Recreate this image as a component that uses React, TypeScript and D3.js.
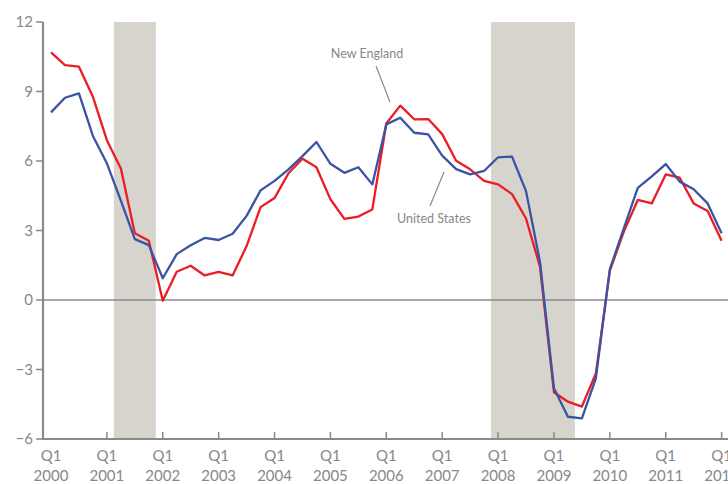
import React from "react";
import * as d3 from "d3";

const newEngland: number[] = [
  10.69, 10.14, 10.07, 8.77, 6.9, 5.68, 2.88, 2.56, -0.03, 1.22,
  1.48, 1.06, 1.21, 1.06, 2.33, 4.01, 4.4, 5.47, 6.1, 5.73,
  4.35, 3.5, 3.6, 3.91, 7.62, 8.39, 7.8, 7.81, 7.16, 6.01,
  5.64, 5.14, 4.99, 4.57, 3.52, 1.44, -3.98, -4.39, -4.6, -3.17,
  1.26, 2.95, 4.32, 4.17, 5.42, 5.28, 4.17, 3.84, 2.56,
];
const unitedStates: number[] = [
  8.1, 8.73, 8.92, 7.08, 5.9, 4.29, 2.63, 2.37, 0.94, 1.98,
  2.36, 2.68, 2.59, 2.86, 3.63, 4.73, 5.14, 5.64, 6.21, 6.82,
  5.88, 5.49, 5.73, 4.99, 7.58, 7.87, 7.22, 7.15, 6.23, 5.65,
  5.42, 5.57, 6.16, 6.19, 4.7, 1.65, -3.81, -5.04, -5.11, -3.38,
  1.33, 3.09, 4.84, 5.34, 5.87, 5.11, 4.78, 4.17, 2.88,
];
const startYear = 2000;
const yearTicks: number[] = [2000, 2001, 2002, 2003, 2004, 2005, 2006, 2007, 2008, 2009, 2010, 2011, 2012];
const yTicks: number[] = [12, 9, 6, 3, 0, -3, -6];
const recessions: [number, number][] = [
  [2001.125, 2001.875],
  [2007.875, 2009.375],
];

const W = 728;
const H = 484;
const FONT = "Lato, 'Open Sans', sans-serif";
const GREY = "#8a8a8a";
const TEXT = "#888888";

export default function App() {
  const x = d3.scaleLinear().domain([2000, 2012]).range([51, 721.6]);
  const y = d3.scaleLinear().domain([-6, 12]).range([439, 22]);
  const axisX = 43;

  const line = d3
    .line<number>()
    .x((_, i) => x(startYear + i / 4))
    .y((d) => y(d));

  const fmt = (v: number) => (v < 0 ? "\u2212" + Math.abs(v) : String(v));

  return (
    <svg
      width={W}
      height={H}
      style={{ position: "absolute", left: 0, top: 0, background: "#fff" }}
    >
      {recessions.map(([a, b], i) => (
        <rect
          key={i}
          x={x(a)}
          y={y(12)}
          width={x(b) - x(a)}
          height={y(-6) - y(12)}
          fill="#d7d4ce"
        />
      ))}
      <line x1={axisX} x2={W} y1={y(0)} y2={y(0)} stroke={GREY} strokeWidth={1.6} />
      <path d={line(newEngland) || ""} fill="none" stroke="#ec1c24" strokeWidth={2.3} strokeLinejoin="round" />
      <path d={line(unitedStates) || ""} fill="none" stroke="#3a53a4" strokeWidth={2.3} strokeLinejoin="round" />

      {/* left axis */}
      <line x1={axisX} x2={axisX} y1={y(12)} y2={y(-6) + 1} stroke={GREY} strokeWidth={2.2} />
      {yTicks.map((t) => (
        <g key={t}>
          <line x1={axisX - 7} x2={axisX} y1={y(t)} y2={y(t)} stroke={GREY} strokeWidth={1.5} />
          <text
            x={33}
            y={y(t)}
            dy="0.35em"
            textAnchor="end"
            fontFamily={FONT}
            fontSize={15}
            fill={TEXT}
          >
            {fmt(t)}
          </text>
        </g>
      ))}

      {/* bottom axis */}
      <line x1={axisX - 1} x2={W} y1={y(-6)} y2={y(-6)} stroke={GREY} strokeWidth={2.2} />
      {yearTicks.map((t) => (
        <g key={t}>
          {t > 2000 && (
            <line x1={x(t)} x2={x(t)} y1={y(-6) - 7} y2={y(-6)} stroke={GREY} strokeWidth={1.5} />
          )}
          <text x={x(t)} y={461} textAnchor="middle" fontFamily={FONT} fontSize={15} fill={TEXT}>
            Q1
          </text>
          <text x={x(t)} y={481} textAnchor="middle" fontFamily={FONT} fontSize={15} fill={TEXT}>
            {t}
          </text>
        </g>
      ))}

      {/* annotations */}
      <text x={367} y={58} textAnchor="middle" fontFamily={FONT} fontSize={12.5} fill={TEXT}>
        New England
      </text>
      <line x1={376} y1={66} x2={390} y2={102} stroke={GREY} strokeWidth={1.2} />
      <text x={434} y={223} textAnchor="middle" fontFamily={FONT} fontSize={12.5} fill={TEXT}>
        United States
      </text>
      <line x1={444} y1={172} x2={430} y2={206} stroke={GREY} strokeWidth={1.2} />
    </svg>
  );
}
